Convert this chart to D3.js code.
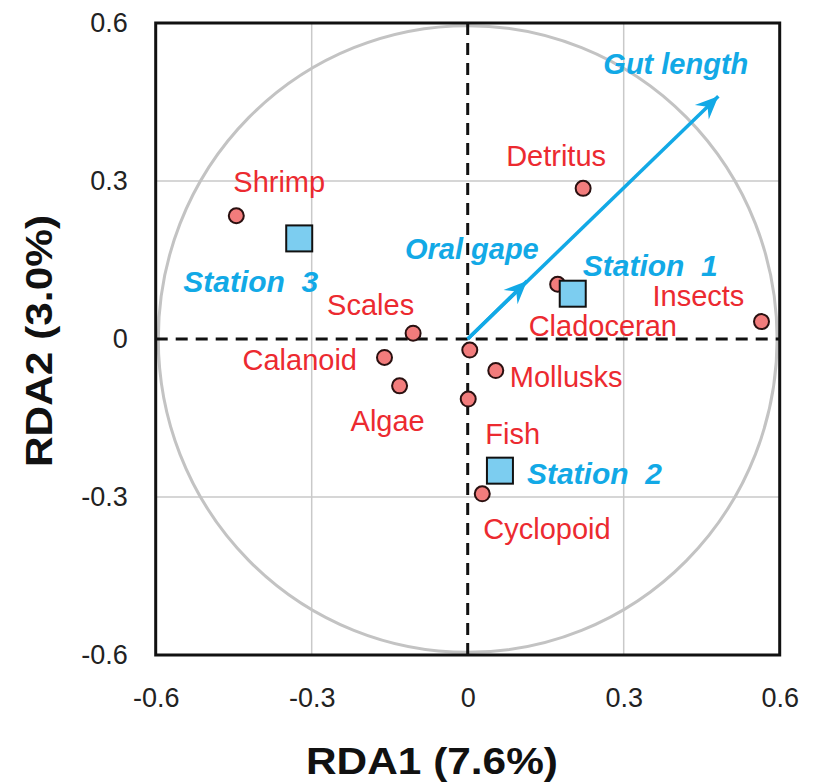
<!DOCTYPE html>
<html>
<head>
<meta charset="utf-8">
<script src="https://cdn.jsdelivr.net/npm/d3@7"></script>
<style>
  body { margin: 0; background: #fff; }
  text { font-family: "Liberation Sans", Arial, sans-serif; }
</style>
</head>
<body>
<div id="viz-container"></div>
<script>
// axis ticks
let tickValues = [-0.6, -0.3, 0, 0.3, 0.6];

// prey items (red points)
let preyNames = ["Shrimp", "Scales", "Calanoid", "Algae", "", "Fish", "Mollusks", "Cyclopoid", "Detritus", "Cladoceran", "Insects"];
let preyRDA1  = [-0.445, -0.105, -0.160, -0.131, 0.004, 0.001, 0.054, 0.028, 0.222, 0.173, 0.565];
let preyRDA2  = [0.234, 0.011, -0.035, -0.089, -0.021, -0.114, -0.060, -0.294, 0.286, 0.104, 0.033];

// stations (blue squares)
let stationNames = ["Station  3", "Station  1", "Station  2"];
let stationRDA1  = [-0.324, 0.202, 0.062];
let stationRDA2  = [0.191, 0.086, -0.250];

// trait vectors (arrows)
let traitNames = ["Gut length", "Oral gape"];
let traitRDA1  = [0.482, 0.114];
let traitRDA2  = [0.461, 0.110];

// label offsets in px from the mark
let labelOffset = {
  "Shrimp": [-3, -24], "Scales": [-86, -18], "Calanoid": [-142, 13], "Algae": [-49, 45],
  "Fish": [17, 45], "Mollusks": [14, 16], "Cyclopoid": [1, 45], "Detritus": [-77, -22],
  "Cladoceran": [-29, 52], "Insects": [-109, -16],
  "Station  3": [-116, 54], "Station  1": [10, -18], "Station  2": [27, 13],
  "Gut length": [-115, -22], "Oral gape": [-122, -22]
};

let red = "#ec2a30";
let blue = "#12a9e6";

let prey = preyNames.map((n, i) => ({name: n, x: preyRDA1[i], y: preyRDA2[i]}));
let stations = stationNames.map((n, i) => ({name: n, x: stationRDA1[i], y: stationRDA2[i]}));
let traits = traitNames.map((n, i) => ({name: n, x: traitRDA1[i], y: traitRDA2[i]}));

let viz = d3.select("#viz-container")
  .append("svg")
    .attr("width", 815)
    .attr("height", 783);

let x = d3.scaleLinear().domain([-0.6, 0.6]).range([155.7, 779.7]);
let y = d3.scaleLinear().domain([-0.6, 0.6]).range([655, 23]);

// grid
viz.selectAll(".gridx").data([-0.3, 0.3]).enter().append("line")
  .attr("x1", d => x(d)).attr("x2", d => x(d))
  .attr("y1", y(0.6)).attr("y2", y(-0.6))
  .attr("stroke", "#c9c9c9").attr("stroke-width", 1.5);
viz.selectAll(".gridy").data([-0.3, 0.3]).enter().append("line")
  .attr("y1", d => y(d)).attr("y2", d => y(d))
  .attr("x1", x(-0.6)).attr("x2", x(0.6))
  .attr("stroke", "#c9c9c9").attr("stroke-width", 1.5);

// circle
viz.append("ellipse")
  .attr("cx", x(0)).attr("cy", y(0))
  .attr("rx", x(0.595) - x(0)).attr("ry", y(0) - y(0.595))
  .attr("fill", "none").attr("stroke", "#c3c3c3").attr("stroke-width", 3);

// zero lines
viz.append("line")
  .attr("x1", x(0)).attr("x2", x(0)).attr("y1", y(0.6)).attr("y2", y(-0.6))
  .attr("stroke", "#111").attr("stroke-width", 3).attr("stroke-dasharray", "12 8");
viz.append("line")
  .attr("y1", y(0)).attr("y2", y(0)).attr("x1", x(-0.6)).attr("x2", x(0.6))
  .attr("stroke", "#111").attr("stroke-width", 3).attr("stroke-dasharray", "12 8");

// border
viz.append("rect")
  .attr("x", x(-0.6)).attr("y", y(0.6))
  .attr("width", x(0.6) - x(-0.6)).attr("height", y(-0.6) - y(0.6))
  .attr("fill", "none").attr("stroke", "#111").attr("stroke-width", 3);

// axes
let fmt = d => d === 0 ? "0" : d.toFixed(1);
let xAxis = viz.append("g")
  .attr("transform", "translate(0," + y(-0.6) + ")")
  .call(d3.axisBottom(x).tickValues(tickValues).tickFormat(fmt).tickSize(0).tickPadding(33));
let yAxis = viz.append("g")
  .attr("transform", "translate(" + x(-0.6) + ",0)")
  .call(d3.axisLeft(y).tickValues(tickValues).tickFormat(fmt).tickSize(0).tickPadding(28));
[xAxis, yAxis].forEach(a => {
  a.select(".domain").remove();
  a.selectAll("text")
    .attr("font-size", 27)
    .attr("fill", "#222")
    .style("font-family", "'Liberation Sans', Arial, sans-serif");
});

// axis titles
viz.append("text")
  .attr("x", 306).attr("y", 774)
  .attr("textLength", 252).attr("lengthAdjust", "spacingAndGlyphs")
  .attr("font-size", 36).attr("font-weight", "bold").attr("fill", "#111")
  .text("RDA1 (7.6%)");
viz.append("text")
  .attr("transform", "translate(52,467) rotate(-90)")
  .attr("textLength", 252).attr("lengthAdjust", "spacingAndGlyphs")
  .attr("font-size", 37).attr("font-weight", "bold").attr("fill", "#111")
  .text("RDA2 (3.0%)");

// arrow marker
viz.append("defs").append("marker")
  .attr("id", "head")
  .attr("markerUnits", "userSpaceOnUse")
  .attr("viewBox", "-24 -12 26 24")
  .attr("markerWidth", 26).attr("markerHeight", 24)
  .attr("refX", 0).attr("refY", 0)
  .attr("orient", "auto")
  .append("path")
    .attr("d", "M0,0 L-23,-10 L-15,0 L-23,10 Z")
    .attr("fill", blue);

viz.selectAll(".arrows").data(traits).enter().append("line")
  .attr("class", "arrows")
  .attr("x1", x(0)).attr("y1", y(0))
  .attr("x2", d => x(d.x)).attr("y2", d => y(d.y))
  .attr("stroke", blue).attr("stroke-width", 3.5)
  .attr("marker-end", "url(#head)");

// prey points
viz.selectAll(".circles").data(prey).enter().append("circle")
  .attr("class", "circles")
  .attr("cx", d => x(d.x)).attr("cy", d => y(d.y))
  .attr("r", 7.5)
  .attr("fill", "#f27c7c").attr("stroke", "#2a1010").attr("stroke-width", 2);

// station squares
viz.selectAll(".squares").data(stations).enter().append("rect")
  .attr("class", "squares")
  .attr("x", d => x(d.x) - 13).attr("y", d => y(d.y) - 13)
  .attr("width", 26).attr("height", 26)
  .attr("fill", "#7ccdf0").attr("stroke", "#111").attr("stroke-width", 2);

// labels
function labelX(d){ return x(d.x) + (labelOffset[d.name] || [0, 0])[0]; }
function labelY(d){ return y(d.y) + (labelOffset[d.name] || [0, 0])[1]; }

viz.selectAll(".preyLabels").data(prey.filter(d => d.name)).enter().append("text")
  .attr("x", labelX).attr("y", labelY)
  .attr("font-size", 29).attr("fill", red)
  .text(d => d.name);

viz.selectAll(".stationLabels").data(stations).enter().append("text")
  .attr("x", labelX).attr("y", labelY)
  .attr("font-size", 30).attr("font-weight", "bold").attr("font-style", "italic")
  .attr("fill", blue).style("white-space", "pre")
  .text(d => d.name);

viz.selectAll(".traitLabels").data(traits).enter().append("text")
  .attr("x", labelX).attr("y", labelY)
  .attr("font-size", 29).attr("font-weight", "bold").attr("font-style", "italic")
  .attr("fill", blue)
  .text(d => d.name);
</script>
</body>
</html>
